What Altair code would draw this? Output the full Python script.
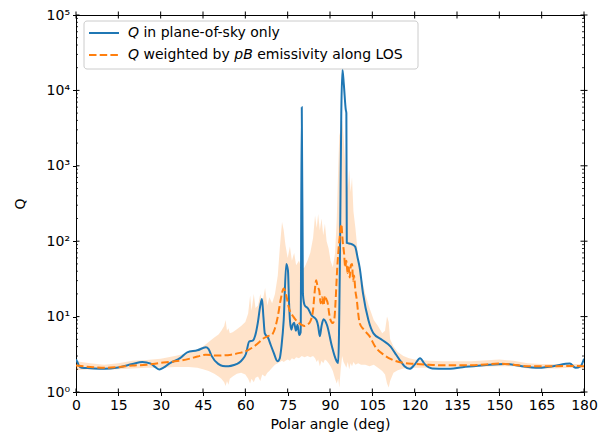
import altair as alt
import pandas as pd

# ---------------- data ----------------
blue_angle = [0, 0.5, 1, 2, 5, 10, 15, 20, 23.5, 26.5, 28, 29.6, 31, 33, 37, 39.4, 43, 46, 47, 48,
              50.4, 52, 54, 56, 57.7, 59, 60.2, 61.4, 62.6, 63.5, 64.4, 65.3, 65.9, 66.4, 66.9, 68.1,
              69, 70, 71.4, 72.2, 72.8, 73.6, 74.5, 75.1, 75.5, 75.8, 76.3, 76.8, 77.3, 77.9, 78.5,
              79.1, 79.6, 80.0, 80.4, 81, 82.2, 83.4, 85.2, 85.8, 86.4, 87, 87.7, 88.9, 90.7, 92,
              92.9, 93.5, 94.0, 94.4, 94.9, 95.6, 95.8, 95.95, 97.5, 98.9, 99.8, 100.5, 101.7, 103.6,
              105.4, 108.5, 111.5, 113, 114.6, 116.4, 118.2, 120, 121.9, 123.7, 126.2, 131, 137,
              144.5, 151.9, 158, 163, 169, 175, 177, 178.8, 180]
blue_q = [2.7, 2.5, 2.25, 2.1, 2.07, 2.03, 2.12, 2.35, 2.5, 2.38, 2.15, 1.99, 2.1, 2.38, 2.83, 3.36,
          3.57, 3.91, 3.7, 3.04, 2.36, 2.22, 2.2, 2.28, 2.43, 2.7, 3.19, 4.69, 4.8, 5.6, 8.2, 14, 17.1,
          10, 6.0, 5.2, 4.2, 3.36, 2.56, 2.8, 4.0, 9.0, 50, 41, 15, 9, 6.7, 7.8, 8.3, 6.5, 7.8, 5.7,
          6.2, 6000, 20, 14.2, 12.8, 10.5, 9, 7.5, 5.5, 7.5, 9.2, 7.8, 4.0, 2.75, 2.43, 50, 5000,
          19000, 12000, 5500, 5000, 95, 92, 85, 60, 45, 20.3, 9.0, 6.0, 4.9, 4.0, 3.3, 2.69, 2.2,
          2.03, 2.31, 2.8, 2.31, 2.05, 2.03, 2.13, 2.26, 2.36, 2.2, 2.09, 2.2, 2.38, 2.09, 2.2, 2.75]

orange_angle = [0, 5, 10, 15, 20, 25, 30, 35, 40, 43, 46, 50, 55, 58, 60, 63, 65, 66, 68, 69.5,
                70.5, 71.5, 72.5, 73.6, 74.5, 75.5, 77, 79, 81, 82, 83, 84, 84.6, 85.1, 85.6, 86.2,
                86.7, 87.2, 87.7, 88.2, 88.7, 89.2, 89.7, 90.2, 91, 91.5, 92, 92.5, 93, 93.5, 94,
                94.5, 95, 95.4, 95.8, 96.2, 96.6, 97, 97.4, 97.8, 98.2, 98.5, 99, 99.5, 100, 100.5,
                102, 104, 106, 109, 112, 116, 120, 125, 130, 140, 150, 155, 160, 170, 175, 180]
orange_q = [2.24, 2.15, 2.09, 2.15, 2.24, 2.3, 2.43, 2.55, 2.75, 2.95, 3.13, 3.04, 3.13, 3.3, 3.46,
            4.0, 4.6, 5.0, 5.5, 5.8, 7.0, 10, 16.6, 23.6, 19, 12.8, 10, 8.2, 7.5, 7.8, 8.6, 12.2, 22,
            30.4, 25, 22, 15, 18, 14, 19, 17, 15, 11, 9.0, 8.2, 9, 16.6, 40, 75, 120, 169, 100, 68,
            45, 55, 38, 45, 33, 48, 50, 30, 35, 22, 16.6, 11, 8.2, 6.7, 5.5, 4.0, 3.13, 2.69, 2.43,
            2.36, 2.3, 2.26, 2.26, 2.38, 2.3, 2.2, 2.2, 2.22, 2.2]

band_angle = [0, 5, 10, 15, 20, 25, 30, 35, 40, 43, 45, 47, 49, 50.5, 51.5, 52.5, 53, 53.5, 54,
              54.5, 55.5, 57, 58.5, 60, 61, 61.7, 62.2, 63, 63.6, 64.5, 65.3, 66, 67, 67.8, 68.5,
              69.5, 70.5, 71.5, 72.2, 73, 73.6, 74.2, 75, 75.8, 76.5, 77.3, 78, 79, 80, 81, 82, 83,
              84, 84.7, 85.3, 85.8, 86.4, 87, 87.6, 88.2, 88.8, 89.5, 90.2, 91, 91.8, 92.4, 92.9,
              93.3, 93.8, 94.3, 94.8, 95.3, 95.8, 96.3, 96.8, 97.3, 97.8, 98.3, 99, 100, 101, 102.5,
              104, 105.5, 107, 108.5, 109.5, 110.2, 110.8, 111.3, 112.5, 114, 116, 118, 120, 125,
              130, 140, 150, 155, 160, 165, 170, 175, 180]
band_lo = [1.95, 2.0, 1.97, 2.0, 2.05, 2.1, 2.1, 2.15, 2.15, 2.1, 2.0, 1.9, 1.75, 1.6, 1.5, 1.35,
           1.2, 1.4, 1.25, 1.5, 1.6, 1.75, 1.8, 1.7, 1.5, 1.3, 1.5, 1.35, 1.55, 1.6, 1.4, 1.7, 1.6,
           1.8, 1.9, 2.1, 2.3, 2.4, 2.5, 2.6, 2.5, 2.6, 2.7, 2.6, 2.8, 2.7, 2.9, 2.8, 3.0, 2.9, 3.0,
           2.9, 3.0, 2.8, 2.5, 2.7, 2.2, 2.6, 2.4, 2.7, 2.6, 2.4, 2.2, 1.9, 1.5, 1.3, 1.5, 1.15,
           2.0, 3.0, 2.5, 2.3, 2.1, 2.5, 2.0, 2.4, 2.2, 2.5, 2.3, 2.4, 2.3, 2.3, 2.2, 2.3, 2.1, 1.9,
           1.7, 1.3, 1.15, 1.4, 1.8, 1.95, 2.05, 2.1, 2.1, 2.1, 2.15, 2.15, 2.2, 2.2, 2.05, 2.05,
           2.05, 2.1, 2.05]
band_hi = [2.55, 2.4, 2.3, 2.4, 2.6, 2.65, 2.75, 3.0, 3.3, 3.7, 4.0, 4.6, 5.3, 5.8, 6.5, 7.5, 9.0,
           6.5, 7.0, 6.0, 6.2, 6.8, 7.5, 8.5, 11, 19, 12, 20, 13, 14, 20, 15, 24, 14, 18, 15, 20, 35,
           80, 180, 140, 90, 60, 85, 55, 70, 48, 55, 42, 45, 55, 70, 110, 220, 150, 230, 140, 200,
           120, 170, 100, 80, 55, 45, 70, 200, 900, 2500, 3000, 4000, 2500, 1200, 700, 500, 900,
           450, 700, 250, 150, 60, 35, 20, 13, 9, 7.5, 6.0, 6.5, 10, 8.5, 5.0, 4.0, 3.4, 3.0, 2.8,
           2.7, 2.6, 2.55, 2.55, 2.7, 2.6, 2.4, 2.35, 2.35, 2.35, 2.35]

x_ticks = list(range(0, 181, 15))
y_major = [1, 10, 100, 1000, 10000, 100000]
y_minor = [k * 10 ** e for e in range(5) for k in range(2, 10)]

legend_label_1 = ["Q", "in plane-of-sky only"]
legend_label_2 = ["Q", "weighted by", "pB", "emissivity along LOS"]

# ---------------- styling ----------------
FONT = "DejaVu Sans"
FS = 14
W, H = 508, 377
BLUE = "#1f77b4"
ORANGE = "#ff7f0e"

blue_df = pd.DataFrame({"angle": blue_angle, "Q": blue_q})
orange_df = pd.DataFrame({"angle": orange_angle, "Q": orange_q})
band_df = pd.DataFrame({"angle": band_angle, "lo": band_lo, "hi": band_hi})
xt_df = pd.DataFrame({"angle": x_ticks})
ymaj_df = pd.DataFrame({"Q": y_major})
ymin_df = pd.DataFrame({"Q": y_minor})
one = pd.DataFrame({"a": [0]})

xscale = alt.Scale(domain=[0, 180], nice=False, zero=False)
yscale = alt.Scale(type="log", domain=[1, 100000], nice=False)

xaxis = alt.Axis(values=x_ticks, title="Polar angle (deg)", grid=False, tickSize=3.5,
                 labelPadding=3, titlePadding=5, labelFont=FONT, titleFont=FONT,
                 labelFontSize=FS, titleFontSize=FS, titleFontWeight="normal",
                 labelColor="black", titleColor="black", tickColor="black",
                 domainColor="black", labelFlush=False)
yaxis = alt.Axis(values=y_major, title="Q", grid=False, tickSize=3.5, labelPadding=3,
                 titlePadding=19, labelFont=FONT, titleFont=FONT, labelFontSize=FS,
                 titleFontSize=FS, titleFontWeight="normal", labelColor="black",
                 titleColor="black", tickColor="black", domainColor="black",
                 labelFlush=False,
                 labelExpr="'10' + ['⁰','¹','²','³','⁴','⁵'][round(log(datum.value)/LN10)]")

X = lambda f="angle": alt.X(f"{f}:Q", scale=xscale, axis=xaxis)
Y = lambda f="Q": alt.Y(f"{f}:Q", scale=yscale, axis=yaxis)

band = alt.Chart(band_df).mark_area(color=ORANGE, opacity=0.22, clip=True).encode(
    x=X(), y=Y("lo"), y2="hi:Q")
blue = alt.Chart(blue_df).mark_line(color=BLUE, strokeWidth=2, clip=True,
                                    interpolate="monotone").encode(x=X(), y=Y())
orange = alt.Chart(orange_df).mark_line(color=ORANGE, strokeWidth=2, strokeDash=[7.5, 3.2],
                                        clip=True, interpolate="monotone").encode(x=X(), y=Y())

# inward / crossing ticks
t_bottom = alt.Chart(xt_df).mark_rule(color="black", strokeWidth=1).encode(
    x=X(), y=alt.value(H - 3.5), y2=alt.value(H))
t_top = alt.Chart(xt_df).mark_rule(color="black", strokeWidth=1).encode(
    x=X(), y=alt.value(-3.5), y2=alt.value(3.5))
t_left = alt.Chart(ymaj_df).mark_rule(color="black", strokeWidth=1).encode(
    y=Y(), x=alt.value(0), x2=alt.value(3.5))
t_right = alt.Chart(ymaj_df).mark_rule(color="black", strokeWidth=1).encode(
    y=Y(), x=alt.value(W - 3.5), x2=alt.value(W + 3.5))
m_left = alt.Chart(ymin_df).mark_rule(color="black", strokeWidth=0.8).encode(
    y=Y(), x=alt.value(0), x2=alt.value(2))
m_right = alt.Chart(ymin_df).mark_rule(color="black", strokeWidth=0.8).encode(
    y=Y(), x=alt.value(W - 2), x2=alt.value(W))

# legend (manual, for mixed italic text)
lg_box = alt.Chart(one).mark_rect(fill="white", fillOpacity=0.8, stroke="#cccccc",
                                  strokeWidth=1, cornerRadius=3).encode(
    x=alt.value(8), x2=alt.value(342), y=alt.value(6), y2=alt.value(54))
lg_l1 = alt.Chart(one).mark_rule(color=BLUE, strokeWidth=2).encode(
    x=alt.value(13), x2=alt.value(43), y=alt.value(18))
lg_l2 = alt.Chart(one).mark_rule(color=ORANGE, strokeWidth=2, strokeDash=[7.5, 3.2]).encode(
    x=alt.value(13), x2=alt.value(43), y=alt.value(40))


def txt(s, x, y, italic=False):
    return alt.Chart(one).mark_text(font=FONT, fontSize=FS, align="left", baseline="middle",
                                    color="black",
                                    fontStyle="italic" if italic else "normal").encode(
        x=alt.value(x), y=alt.value(y), text=alt.value(s))


x0 = 52
qw = 0.787 * FS
sp = 0.318 * FS
texts = [
    txt(legend_label_1[0], x0, 18, True),
    txt(legend_label_1[1], x0 + qw + sp, 18),
    txt(legend_label_2[0], x0, 40, True),
    txt(legend_label_2[1], x0 + qw + sp, 40),
    txt(legend_label_2[2], x0 + qw + sp + 6.485 * FS, 40, True),
    txt(legend_label_2[3], x0 + qw + sp + 6.485 * FS + 1.321 * FS + sp, 40),
]

chart = alt.layer(
    band, blue, orange, t_bottom, t_top, t_left, t_right, m_left, m_right,
    lg_box, lg_l1, lg_l2, *texts
).properties(
    width=W, height=H,
    padding={"left": 76, "top": 15, "right": 16, "bottom": 48},
    autosize=alt.AutoSizeParams(type="none"),
    background="white",
).configure_view(stroke="black", strokeWidth=1)

chart.save("out.html", embed_options={"renderer": "svg", "actions": False})
